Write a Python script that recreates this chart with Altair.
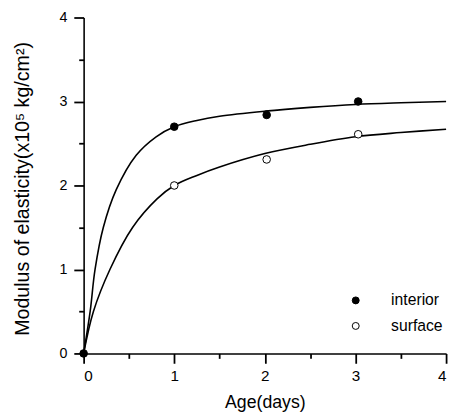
import altair as alt
import pandas as pd

# measured points
int_x = [0, 1.0, 2.02, 3.03]
int_y = [0, 2.70, 2.84, 3.00]
surf_x = [1.0, 2.02, 3.03]
surf_y = [2.00, 2.31, 2.61]

# fitted curves
int_curve_x = [0, 0.072, 0.126, 0.217, 0.36, 0.58, 0.8, 1.0, 1.25, 1.5, 2.0, 2.5, 3.0, 3.5, 4.0]
int_curve_y = [0, 0.5, 1.0, 1.5, 1.95, 2.36, 2.58, 2.70, 2.775, 2.825, 2.885, 2.93, 2.965, 2.985, 3.0]
surf_curve_x = [0, 0.108, 0.29, 0.54, 0.81, 1.0, 1.25, 1.5, 2.0, 2.5, 3.0, 3.5, 4.0]
surf_curve_y = [0, 0.5, 1.0, 1.5, 1.84, 2.0, 2.12, 2.22, 2.38, 2.49, 2.58, 2.63, 2.67]

series = ["interior", "surface"]
major = [0, 1, 2, 3, 4]
minor = [0.5, 1.5, 2.5, 3.5]

FONT = "Liberation Sans"

pts = pd.DataFrame(
    {"x": surf_x + int_x,
     "y": surf_y + int_y,
     "s": ["surface"] * len(surf_x) + ["interior"] * len(int_x)}
)
curves = pd.DataFrame(
    {"x": int_curve_x + surf_curve_x,
     "y": int_curve_y + surf_curve_y,
     "s": ["interior"] * len(int_curve_x) + ["surface"] * len(surf_curve_x)}
)

sc = alt.Scale(domain=[0, 4], nice=False, zero=False)

TICK = dict(ticks=True, tickColor="black", tickWidth=1.8)

x_major = alt.X(
    "x:Q",
    scale=sc,
    axis=alt.Axis(
        orient="bottom",
        values=major,
        format="d",
        title="Age(days)",
        grid=False,
        tickSize=10,
        labelPadding=6,
        labelFontSize=15.5,
        titleFontSize=18,
        titleFontWeight="normal",
        titleX=184.5,
        titleY=50,
        titleBaseline="middle",
        titleAlign="center",
        **TICK,
    ),
)
y_major = alt.Y(
    "y:Q",
    scale=sc,
    axis=alt.Axis(
        orient="left",
        values=major,
        format="d",
        title="Modulus of elasticity(x10\u2075 kg/cm\u00b2)",
        grid=False,
        tickSize=10,
        labelPadding=7,
        labelFontSize=14.5,
        titleFontSize=20,
        titleFontWeight="normal",
        titleAngle=270,
        titleX=-62,
        titleY=174,
        titleBaseline="middle",
        titleAlign="center",
        **TICK,
    ),
)
x_minor = alt.X(
    "x:Q",
    scale=sc,
    axis=alt.Axis(
        orient="bottom", values=minor, labels=False, title=None, grid=False,
        tickSize=5, domain=False, **TICK,
    ),
)
y_minor = alt.Y(
    "y:Q",
    scale=sc,
    axis=alt.Axis(
        orient="left", values=minor, labels=False, title=None, grid=False,
        tickSize=5, domain=False, **TICK,
    ),
)

lines = alt.Chart(curves).mark_line(
    color="black", strokeWidth=1.6, interpolate="catmull-rom"
).encode(x=x_major, y=y_major, detail="s:N")

points = alt.Chart(pts).mark_point(
    filled=True, stroke="black", strokeWidth=1, size=60, opacity=1
).encode(
    x=x_minor,
    y=y_minor,
    fill=alt.Fill(
        "s:N",
        scale=alt.Scale(domain=series, range=["black", "white"]),
        legend=alt.Legend(
            title=None,
            orient="none",
            legendX=269,
            legendY=280,
            padding=0,
            symbolSize=50,
            symbolStrokeColor="black",
            symbolStrokeWidth=1,
            symbolType="circle",
            labelFontSize=16,
            labelOffset=28,
            rowPadding=10,
            labelFont=FONT,
            labelColor="black",
        ),
    ),
)

chart = (
    alt.layer(lines, points)
    .resolve_axis(x="independent", y="independent")
    .properties(
        width=369,
        height=342,
        autosize=alt.AutoSizeParams(type="none"),
        padding={"left": 77, "top": 6, "right": 5, "bottom": 60},
    )
    .configure_view(stroke=None)
    .configure_axis(
        domainColor="black",
        domainWidth=1.6,
        labelColor="black",
        titleColor="black",
        labelFont=FONT,
        titleFont=FONT,
    )
)

chart.save("out.html", embed_options={"renderer": "svg", "actions": False})
